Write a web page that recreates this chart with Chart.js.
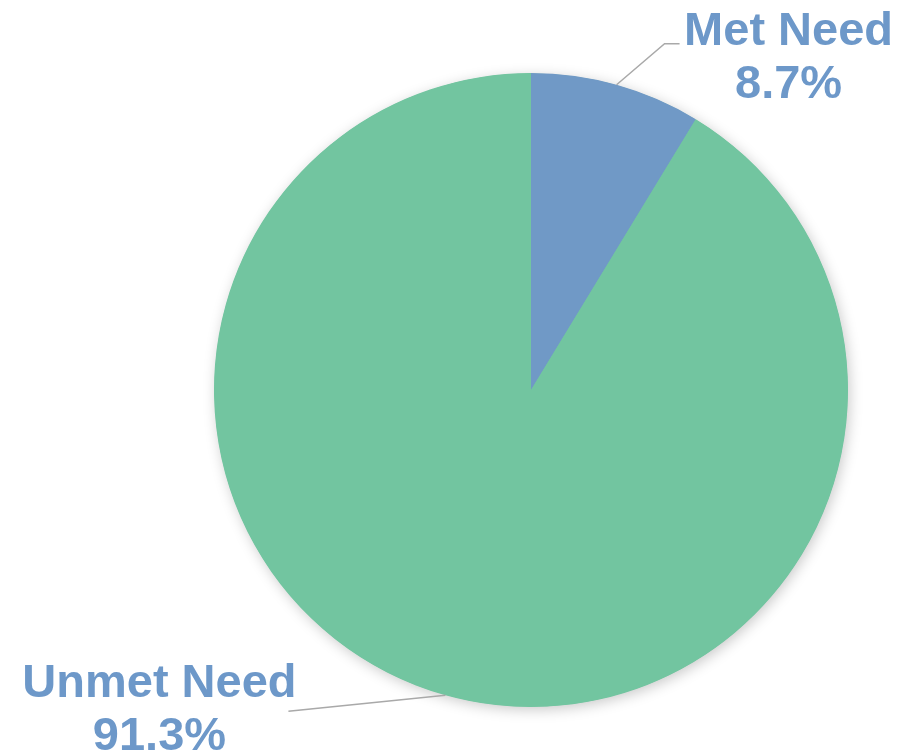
<!DOCTYPE html>
<html>
<head>
    <title>Met vs Unmet Need</title>
    <style>
        body, html {
            width: 100%;
            height: 100%;
            margin: 0;
            padding: 0;
            background: #ffffff;
            overflow: hidden;
        }
        #wrap {
            width: 904px;
            height: 751px;
        }
    </style>
</head>
<body>
    <div id="wrap"><canvas id="pie"></canvas></div>

    <script src="https://cdn.jsdelivr.net/npm/chart.js"></script>
    <script>
        // data
        let categories = ['Met Need', 'Unmet Need'];
        let shares = [8.7, 91.3];
        let sliceColors = ['#7099c6', '#72c5a0'];

        // soft shadow behind the whole pie (not between the slices)
        let shadowPlugin = {
            id: 'pieShadow',
            beforeDatasetsDraw(chart) {
                let arc = chart.getDatasetMeta(0).data[0];
                if (!arc) return;
                let p = arc.getProps(['x', 'y', 'outerRadius'], true);
                let ctx = chart.ctx;
                ctx.save();
                ctx.shadowColor = 'rgba(0, 0, 0, 0.22)';
                ctx.shadowBlur = 14;
                ctx.shadowOffsetX = 2;
                ctx.shadowOffsetY = 3;
                ctx.fillStyle = sliceColors[1];
                ctx.beginPath();
                ctx.arc(p.x, p.y, p.outerRadius - 0.5, 0, Math.PI * 2);
                ctx.fill();
                ctx.restore();
            }
        };

        // leader lines + two-line labels, anchored at each slice's mid angle
        let labelPlugin = {
            id: 'outsideLabels',
            afterDraw(chart) {
                let ctx = chart.ctx;
                let arcs = chart.getDatasetMeta(0).data;
                let layout = [
                    { elbow: [48, -41], end: [63, -41], text: [172, -40] },
                    { elbow: null, end: [-157, 16], text: [-286, 2] }
                ];
                ctx.save();
                arcs.forEach((arc, i) => {
                    let p = arc.getProps(['x', 'y', 'startAngle', 'endAngle', 'outerRadius'], true);
                    let mid = (p.startAngle + p.endAngle) / 2;
                    let ax = p.x + Math.cos(mid) * p.outerRadius;
                    let ay = p.y + Math.sin(mid) * p.outerRadius;
                    let l = layout[i];

                    ctx.strokeStyle = '#a9a9a9';
                    ctx.lineWidth = 1.5;
                    ctx.beginPath();
                    ctx.moveTo(ax, ay);
                    if (l.elbow) ctx.lineTo(ax + l.elbow[0], ay + l.elbow[1]);
                    ctx.lineTo(ax + l.end[0], ay + l.end[1]);
                    ctx.stroke();

                    ctx.fillStyle = '#6d98c9';
                    ctx.font = 'bold 47px "Liberation Sans", Arial, sans-serif';
                    ctx.textAlign = 'center';
                    ctx.textBaseline = 'alphabetic';
                    let tx = ax + l.text[0];
                    let ty = ay + l.text[1];
                    ctx.fillText(categories[i], tx, ty);
                    ctx.fillText(shares[i].toFixed(1) + '%', tx, ty + 53);
                });
                ctx.restore();
            }
        };

        new Chart(document.getElementById('pie'), {
            type: 'pie',
            data: {
                labels: categories,
                datasets: [{
                    data: shares,
                    backgroundColor: sliceColors,
                    borderWidth: 0,
                    hoverOffset: 0
                }]
            },
            options: {
                responsive: true,
                maintainAspectRatio: false,
                animation: false,
                layout: {
                    padding: { top: 73, bottom: 44, left: 214, right: 56 }
                },
                plugins: {
                    legend: { display: false },
                    tooltip: { enabled: false }
                }
            },
            plugins: [shadowPlugin, labelPlugin]
        });
    </script>
</body>
</html>
